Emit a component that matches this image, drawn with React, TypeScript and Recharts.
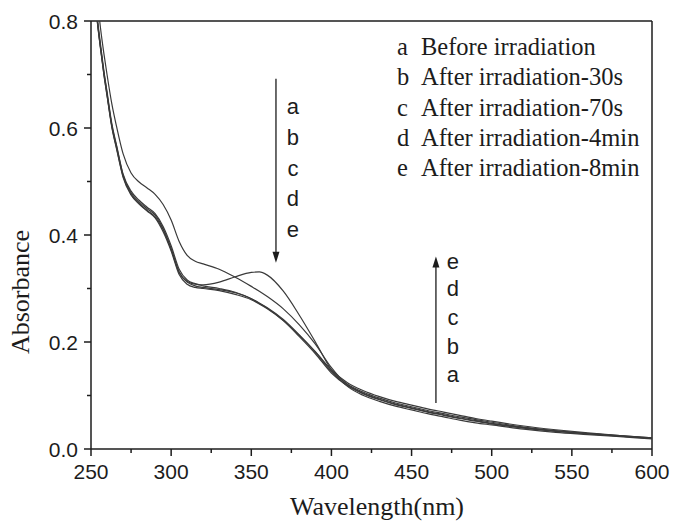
import { LineChart, Line, XAxis, YAxis, ReferenceLine, ReferenceDot } from "recharts";

const wavelengths = [
  250, 252, 254, 256, 258, 260, 263, 266, 270, 275, 280, 285, 290, 295, 300, 305, 310, 315, 320, 330, 340,
  350, 355, 360, 370, 380, 390, 400, 410, 420, 430, 440, 450, 460, 470, 480, 490, 500, 520, 540, 560, 580, 600,
];

// a: before irradiation (band near 355 nm)
const seriesA = [
  0.93, 0.862, 0.798, 0.748, 0.702, 0.662, 0.603, 0.562, 0.51, 0.476, 0.459, 0.446, 0.434, 0.41, 0.373, 0.33,
  0.313, 0.308, 0.307, 0.312, 0.322, 0.33, 0.331, 0.325, 0.295, 0.25, 0.2, 0.148, 0.117, 0.1, 0.089, 0.08,
  0.073, 0.066, 0.06, 0.054, 0.049, 0.045, 0.037, 0.031, 0.027, 0.023, 0.019,
];
const seriesB = [
  0.96, 0.9, 0.84, 0.785, 0.74, 0.7, 0.645, 0.602, 0.552, 0.516, 0.499, 0.488, 0.476, 0.457, 0.428, 0.388,
  0.362, 0.351, 0.346, 0.336, 0.321, 0.304, 0.295, 0.285, 0.262, 0.232, 0.196, 0.152, 0.12, 0.104, 0.093,
  0.084, 0.077, 0.07, 0.064, 0.058, 0.053, 0.048, 0.04, 0.034, 0.029, 0.024, 0.02,
];
const seriesC = [
  0.93, 0.865, 0.8, 0.75, 0.705, 0.665, 0.605, 0.565, 0.512, 0.479, 0.462, 0.449, 0.437, 0.412, 0.375, 0.331,
  0.312, 0.305, 0.302, 0.298, 0.292, 0.281, 0.272, 0.263, 0.24, 0.21, 0.178, 0.142, 0.118, 0.103, 0.092,
  0.083, 0.076, 0.069, 0.063, 0.057, 0.052, 0.047, 0.039, 0.033, 0.028, 0.024, 0.02,
];
const seriesD = [
  0.935, 0.87, 0.805, 0.755, 0.708, 0.668, 0.608, 0.567, 0.514, 0.482, 0.465, 0.452, 0.44, 0.416, 0.38, 0.336,
  0.316, 0.309, 0.305, 0.3, 0.293, 0.281, 0.273, 0.264, 0.242, 0.213, 0.181, 0.145, 0.121, 0.106, 0.095,
  0.086, 0.079, 0.072, 0.066, 0.06, 0.055, 0.05, 0.041, 0.034, 0.029, 0.025, 0.021,
];
const seriesE = [
  0.925, 0.86, 0.797, 0.747, 0.7, 0.66, 0.601, 0.56, 0.508, 0.475, 0.458, 0.445, 0.432, 0.406, 0.37, 0.326,
  0.308, 0.302, 0.3, 0.296, 0.289, 0.279, 0.271, 0.262, 0.24, 0.212, 0.182, 0.148, 0.124, 0.109, 0.098,
  0.089, 0.082, 0.075, 0.069, 0.063, 0.057, 0.052, 0.043, 0.036, 0.03, 0.025, 0.021,
];

const seriesKeys = ["a", "b", "c", "d", "e"];
const legendLabels = [
  "Before irradiation",
  "After irradiation-30s",
  "After irradiation-70s",
  "After irradiation-4min",
  "After irradiation-8min",
];

const xTicks = [250, 275, 300, 325, 350, 375, 400, 425, 450, 475, 500, 525, 550, 575, 600];
const yTicks = [0, 0.1, 0.2, 0.3, 0.4, 0.5, 0.6, 0.7, 0.8];

// annotation arrows (data units)
const downArrow = { x: 365.4, from: 0.692, to: 0.348 };
const downLetters = [0.639, 0.581, 0.523, 0.467, 0.409];
const upArrow = { x: 465.2, from: 0.086, to: 0.36 };
const upLetters = [0.35, 0.299, 0.245, 0.191, 0.138];

const data = wavelengths.map((w, i) => ({
  w,
  a: seriesA[i],
  b: seriesB[i],
  c: seriesC[i],
  d: seriesD[i],
  e: seriesE[i],
}));

const INK = "#1c1c1c";
const TICK_SIZE = 7;
const TICK_MARGIN = 2;

const XTick = (props: any) => {
  const { x, y, payload } = props;
  const axisY = y - TICK_SIZE - TICK_MARGIN;
  const major = payload.value % 50 === 0;
  return (
    <g>
      <line x1={x} x2={x} y1={axisY} y2={axisY + (major ? 7 : 4)} stroke={INK} strokeWidth={1.5} />
      {major && (
        <text x={x} y={axisY + 30} textAnchor="middle" fontSize={21} fill={INK} fontFamily="Liberation Sans, Arial, sans-serif">
          {payload.value}
        </text>
      )}
    </g>
  );
};

const YTick = (props: any) => {
  const { x, y, payload } = props;
  const axisX = x + TICK_SIZE + TICK_MARGIN;
  const major = Math.round(payload.value * 10) % 2 === 0;
  return (
    <g>
      <line x1={axisX} x2={axisX - (major ? 7 : 4)} y1={y} y2={y} stroke={INK} strokeWidth={1.5} />
      {major && (
        <text x={axisX - 13} y={y + 7.5} textAnchor="end" fontSize={21} fill={INK} fontFamily="Liberation Sans, Arial, sans-serif">
          {payload.value.toFixed(1)}
        </text>
      )}
    </g>
  );
};

const arrowShape = (p: any) => {
  const { x1, y1, x2, y2 } = p;
  const dir = y2 > y1 ? 1 : -1;
  return (
    <g>
      <line x1={x1} y1={y1} x2={x2} y2={y2 - dir * 8} stroke={INK} strokeWidth={1.3} />
      <polygon points={`${x2},${y2} ${x2 - 3.5},${y2 - dir * 11} ${x2 + 3.5},${y2 - dir * 11}`} fill={INK} />
    </g>
  );
};

const letterShape = (letter: string) => (p: any) => (
  <text x={p.cx} y={p.cy + 7} textAnchor="middle" fontSize={22} fill={INK} fontFamily="Liberation Sans, Arial, sans-serif">
    {letter}
  </text>
);

export default function App() {
  return (
    <div style={{ position: "absolute", left: 0, top: 0, width: 673, height: 529, background: "#fff" }}>
      <LineChart width={673} height={529} data={data} margin={{ top: 21, right: 21, left: 31, bottom: 30 }}>
        <XAxis
          dataKey="w"
          type="number"
          domain={[250, 600]}
          ticks={xTicks}
          interval={0}
          height={50}
          tickSize={TICK_SIZE}
          tickMargin={TICK_MARGIN}
          tickLine={false}
          tick={<XTick />}
          axisLine={{ stroke: INK, strokeWidth: 1.5 }}
        />
        <YAxis
          type="number"
          domain={[0, 0.8]}
          allowDataOverflow
          ticks={yTicks}
          interval={0}
          width={60}
          tickSize={TICK_SIZE}
          tickMargin={TICK_MARGIN}
          tickLine={false}
          tick={<YTick />}
          axisLine={{ stroke: INK, strokeWidth: 1.5 }}
        />
        <ReferenceLine y={0.8} stroke={INK} strokeWidth={1.5} />
        <ReferenceLine x={600} stroke={INK} strokeWidth={1.5} />
        {seriesKeys.map((k) => (
          <Line
            key={k}
            dataKey={k}
            type="monotone"
            stroke="#3a3a3a"
            strokeWidth={1.2}
            dot={false}
            isAnimationActive={false}
          />
        ))}
        <ReferenceLine
          segment={[
            { x: downArrow.x, y: downArrow.from },
            { x: downArrow.x, y: downArrow.to },
          ]}
          shape={arrowShape}
        />
        <ReferenceLine
          segment={[
            { x: upArrow.x, y: upArrow.from },
            { x: upArrow.x, y: upArrow.to },
          ]}
          shape={arrowShape}
        />
        {seriesKeys.map((k, i) => (
          <ReferenceDot key={`dl-${k}`} x={376} y={downLetters[i]} r={0} shape={letterShape(k)} />
        ))}
        {[...seriesKeys].reverse().map((k, i) => (
          <ReferenceDot key={`ul-${k}`} x={475.8} y={upLetters[i]} r={0} shape={letterShape(k)} />
        ))}
      </LineChart>
      <svg
        width={673}
        height={529}
        style={{ position: "absolute", left: 0, top: 0, pointerEvents: "none" }}
        fontFamily="Liberation Serif, Times New Roman, serif"
        fill={INK}
      >
        {seriesKeys.map((k, i) => (
          <g key={k} fontSize={24.5}>
            <text x={397} y={55 + i * 30.3}>{k}</text>
            <text x={421} y={55 + i * 30.3}>{legendLabels[i]}</text>
          </g>
        ))}
        <text x={377} y={515} textAnchor="middle" fontSize={26}>
          Wavelength(nm)
        </text>
        <text x={29} y={292} textAnchor="middle" fontSize={26} transform="rotate(-90 29 292)">
          Absorbance
        </text>
      </svg>
    </div>
  );
}
